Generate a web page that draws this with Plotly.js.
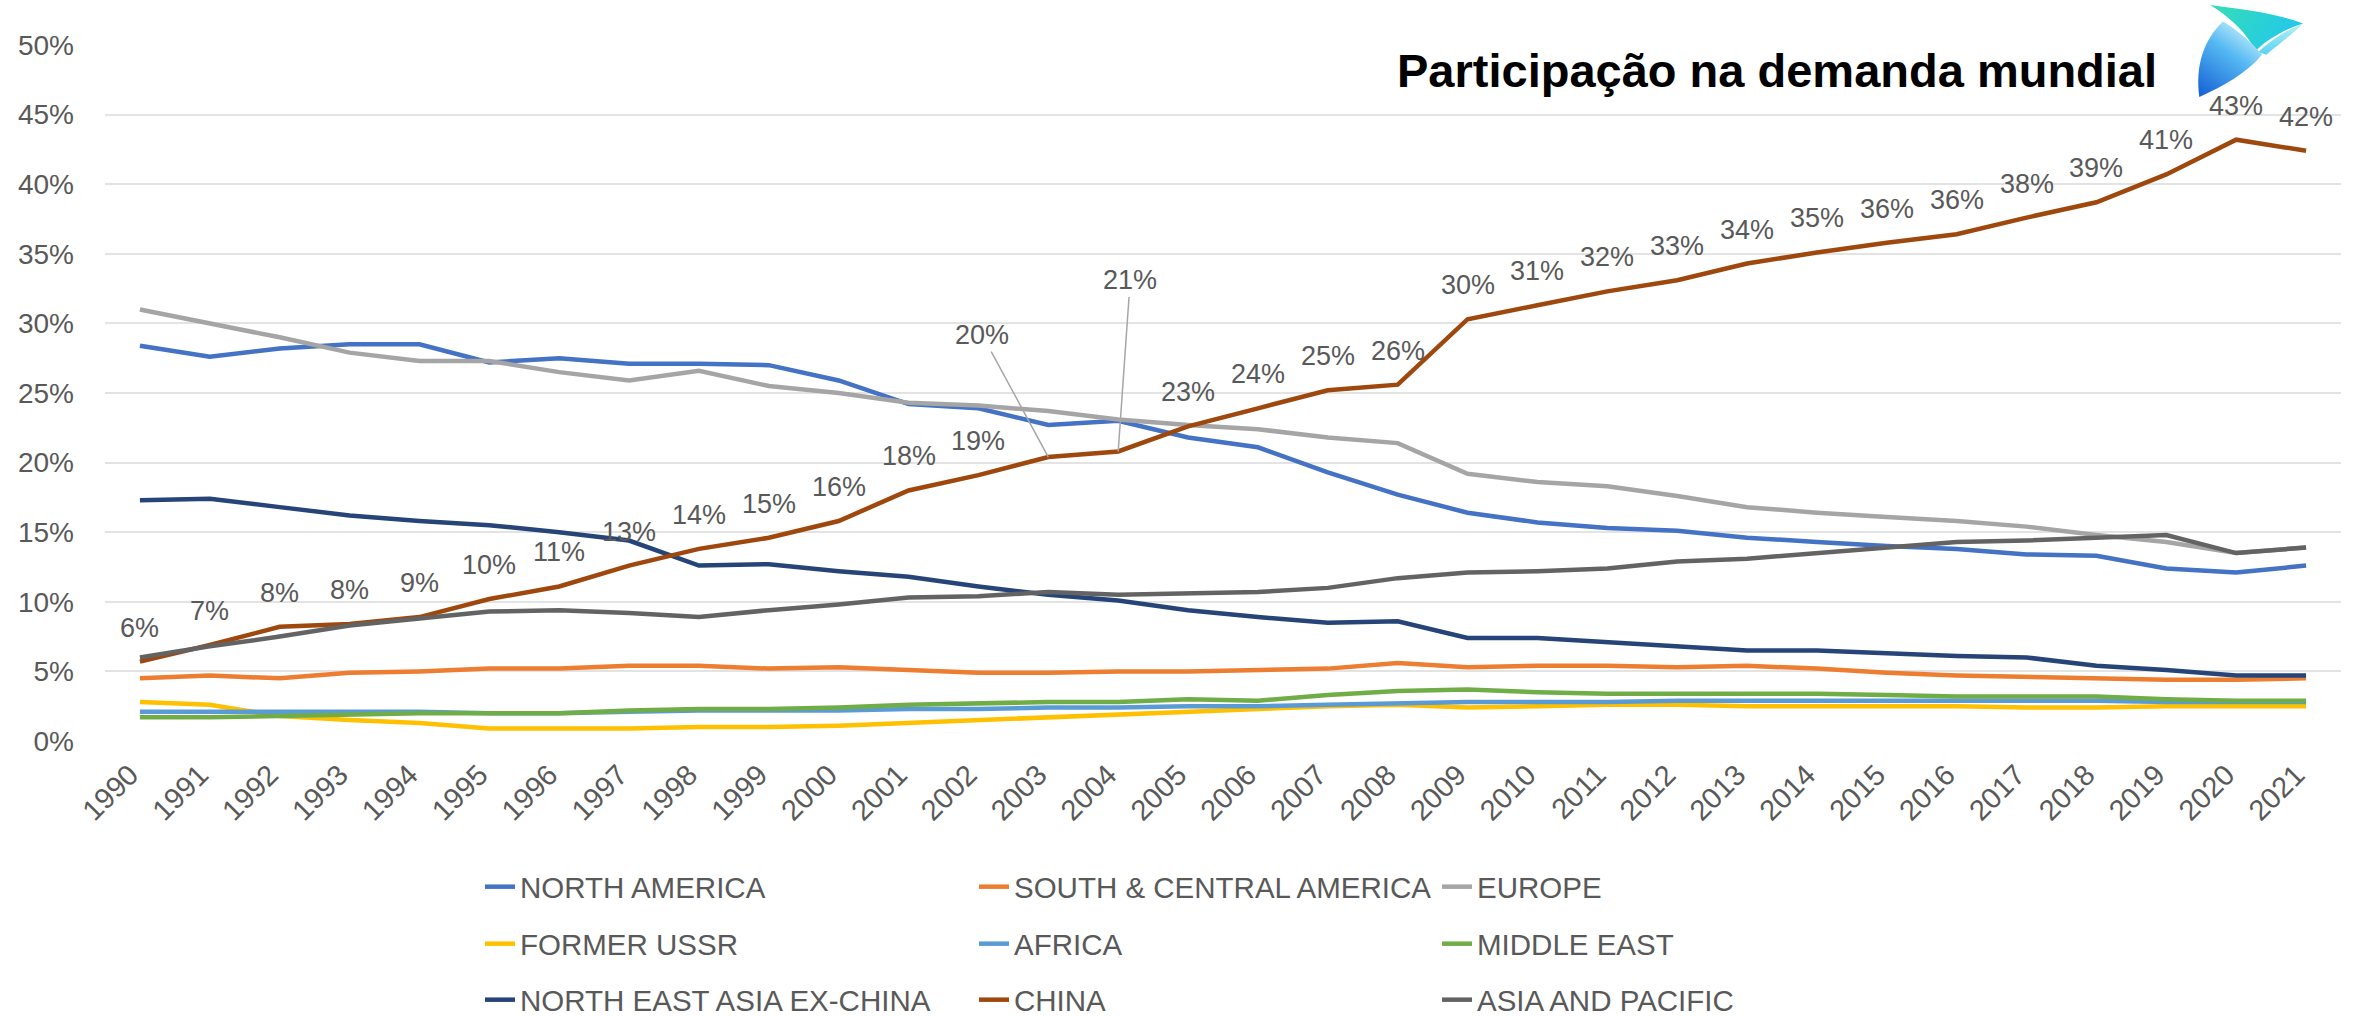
<!DOCTYPE html>
<html><head><meta charset="utf-8">
<script src="https://cdn.plot.ly/plotly-3.0.1.min.js"></script>
<style>html,body{margin:0;padding:0;background:#fff}</style>
</head><body>
<div id="chart" style="width:2368px;height:1017px"></div>
<script>
const years = ["1990","1991","1992","1993","1994","1995","1996","1997","1998","1999","2000","2001","2002","2003","2004","2005","2006","2007","2008","2009","2010","2011","2012","2013","2014","2015","2016","2017","2018","2019","2020","2021"];

const northAmerica = [0.284,0.276,0.282,0.285,0.285,0.272,0.275,0.271,0.271,0.270,0.259,0.242,0.239,0.227,0.230,0.218,0.211,0.193,0.177,0.164,0.157,0.153,0.151,0.146,0.143,0.140,0.138,0.134,0.133,0.124,0.121,0.126];
const southCentralAmerica = [0.045,0.047,0.045,0.049,0.050,0.052,0.052,0.054,0.054,0.052,0.053,0.051,0.049,0.049,0.050,0.050,0.051,0.052,0.056,0.053,0.054,0.054,0.053,0.054,0.052,0.049,0.047,0.046,0.045,0.044,0.044,0.045];
const europe = [0.310,0.300,0.290,0.279,0.273,0.273,0.265,0.259,0.266,0.255,0.250,0.243,0.241,0.237,0.231,0.227,0.224,0.218,0.214,0.192,0.186,0.183,0.176,0.168,0.164,0.161,0.158,0.154,0.148,0.143,0.135,0.139];
const formerUSSR = [0.028,0.026,0.018,0.015,0.013,0.009,0.009,0.009,0.010,0.010,0.011,0.013,0.015,0.017,0.019,0.021,0.023,0.025,0.026,0.024,0.025,0.026,0.026,0.025,0.025,0.025,0.025,0.024,0.024,0.025,0.025,0.025];
const africa = [0.021,0.021,0.021,0.021,0.021,0.020,0.020,0.021,0.022,0.022,0.022,0.023,0.023,0.024,0.024,0.025,0.025,0.026,0.027,0.028,0.028,0.028,0.029,0.029,0.029,0.029,0.029,0.029,0.029,0.028,0.028,0.028];
const middleEast = [0.017,0.017,0.018,0.019,0.020,0.020,0.020,0.022,0.023,0.023,0.024,0.026,0.027,0.028,0.028,0.030,0.029,0.033,0.036,0.037,0.035,0.034,0.034,0.034,0.034,0.033,0.032,0.032,0.032,0.030,0.029,0.029];
const northEastAsiaExChina = [0.173,0.174,0.168,0.162,0.158,0.155,0.150,0.144,0.126,0.127,0.122,0.118,0.111,0.105,0.101,0.094,0.089,0.085,0.086,0.074,0.074,0.071,0.068,0.065,0.065,0.063,0.061,0.060,0.054,0.051,0.047,0.047];
const china = [0.057,0.069,0.082,0.084,0.089,0.102,0.111,0.126,0.138,0.146,0.158,0.180,0.191,0.204,0.208,0.226,0.239,0.252,0.256,0.303,0.313,0.323,0.331,0.343,0.351,0.358,0.364,0.376,0.387,0.407,0.432,0.424];
const asiaPacific = [0.060,0.068,0.075,0.083,0.088,0.093,0.094,0.092,0.089,0.094,0.098,0.103,0.104,0.107,0.105,0.106,0.107,0.110,0.117,0.121,0.122,0.124,0.129,0.131,0.135,0.139,0.143,0.144,0.146,0.148,0.135,0.139];

const seriesNames = ["NORTH AMERICA","SOUTH & CENTRAL AMERICA","EUROPE","FORMER USSR","AFRICA","MIDDLE EAST","NORTH EAST ASIA EX-CHINA","CHINA","ASIA AND PACIFIC"];
const seriesValues = [northAmerica, southCentralAmerica, europe, formerUSSR, africa, middleEast, northEastAsiaExChina, china, asiaPacific];
const seriesColors = ["#4472C4","#ED7D31","#A5A5A5","#FFC000","#5B9BD5","#70AD47","#264478","#9E480E","#636363"];

// China labels placed with leader lines (2003, 2004)
const leaderYears = ["2003","2004"];

const FONT = "Liberation Sans, Arial, sans-serif";
const GREY = "#595959";

// plot geometry (pixels)
const W = 2368, H = 1017;
const ML = 105, MR = 27, MT = 45, MB = 276;
const PW = W - ML - MR, PH = H - MT - MB;
function px2paperX(px){ return (px - ML) / PW; }
function px2paperY(py){ return (H - MB - py) / PH; }

const legendIds = ["legend","legend2","legend3","legend4","legend5","legend6","legend7","legend8","legend9"];
const legendPos = [[480,887],[974,887],[1437,887],[480,944],[974,944],[1437,944],[480,1000],[974,1000],[1437,1000]];

const traces = seriesNames.map((name, i) => ({
  type: "scatter",
  mode: "lines",
  name: name,
  x: years,
  y: seriesValues[i],
  line: {color: seriesColors[i], width: 4.5},
  legend: legendIds[i],
  hoverinfo: "x+y+name"
}));

const labelAnnotations = china.map((v, k) => {
  const lead = leaderYears.indexOf(years[k]);
  const txt = Math.round(v * 100) + "%";
  if (lead === -1) {
    return {
      x: k, y: v, xref: "x", yref: "y",
      text: txt, showarrow: false,
      xanchor: "center", yanchor: "bottom", yshift: 17,
      font: {family: FONT, size: 27, color: GREY}
    };
  }
  const off = lead === 0 ? [-66, -122] : [12, -171];
  return {
    x: k, y: v, xref: "x", yref: "y",
    text: txt,
    showarrow: true, arrowhead: 0, arrowwidth: 1.5, arrowcolor: "#A6A6A6",
    ax: off[0], ay: off[1],
    font: {family: FONT, size: 27, color: GREY}
  };
});

const layout = {
  width: W, height: H,
  margin: {l: ML, r: MR, t: MT, b: MB, autoexpand: false},
  paper_bgcolor: "#ffffff",
  plot_bgcolor: "#ffffff",
  font: {family: FONT, color: GREY, size: 28},
  title: {
    text: "<b>Participação na demanda mundial</b>",
    font: {family: FONT, size: 47, color: "#000000"},
    xref: "container", yref: "container",
    x: 1397 / W, xanchor: "left",
    y: 1 - 71 / H, yanchor: "middle"
  },
  xaxis: {
    type: "category",
    range: [-0.5, 31.5],
    showgrid: false, zeroline: false, showline: false,
    ticks: "",
    tickangle: -45,
    tickfont: {family: FONT, size: 29, color: GREY},
    ticklabelstandoff: 10,
    ticklabelshift: -10
  },
  yaxis: {
    range: [0, 0.5],
    dtick: 0.05,
    tickformat: ".0%",
    showgrid: true, gridcolor: "#E3E3E3", gridwidth: 2,
    zeroline: false, showline: false, ticks: "",
    tickfont: {family: FONT, size: 28, color: GREY},
    ticklabelstandoff: 30
  },
  showlegend: true,
  annotations: labelAnnotations,
  images: []
};

legendIds.forEach((id, i) => {
  layout[id] = {
    x: px2paperX(legendPos[i][0]), y: px2paperY(legendPos[i][1]),
    xanchor: "left", yanchor: "middle",
    orientation: "v",
    bgcolor: "rgba(0,0,0,0)",
    borderwidth: 0,
    font: {family: FONT, size: 29.5, color: GREY}
  };
});

// logo
const logoSvg = `<svg xmlns="http://www.w3.org/2000/svg" viewBox="0 0 100 100" width="100" height="100" preserveAspectRatio="none">
<defs>
<linearGradient id="g1" x1="0" y1="0" x2="1" y2="0.3"><stop offset="0" stop-color="#36DDB4"/><stop offset="1" stop-color="#22C9EA"/></linearGradient>
<linearGradient id="g2" x1="0" y1="0" x2="0" y2="1"><stop offset="0" stop-color="#B4F1F8"/><stop offset="1" stop-color="#5AD2F2"/></linearGradient>
<linearGradient id="g3" x1="0.7" y1="0" x2="0.1" y2="1"><stop offset="0" stop-color="#C8F2FC"/><stop offset="0.4" stop-color="#55B8F2"/><stop offset="1" stop-color="#1763D6"/></linearGradient>
</defs>
<path d="M14,0 C40,4 72,8 100,20 C84,26 68,36 56,50 C50,34 34,14 14,0 Z" fill="url(#g1)"/>
<path d="M100,20 C90,32 78,42 66,54 C62,52 60,52 57,53 C70,38 84,28 100,20 Z" fill="url(#g2)"/>
<path d="M26,18 C8,38 0,66 4,100 C26,88 48,74 62,54 C52,40 40,28 26,18 Z" fill="url(#g3)"/>
</svg>`;
layout.images.push({
  source: "data:image/svg+xml;utf8," + encodeURIComponent(logoSvg),
  xref: "paper", yref: "paper",
  x: px2paperX(2195), y: px2paperY(5),
  sizex: 108 / PW, sizey: 92 / PH,
  xanchor: "left", yanchor: "top",
  sizing: "stretch", layer: "above"
});

Plotly.newPlot("chart", traces, layout, {displayModeBar: false, staticPlot: true});
</script>
</body></html>
